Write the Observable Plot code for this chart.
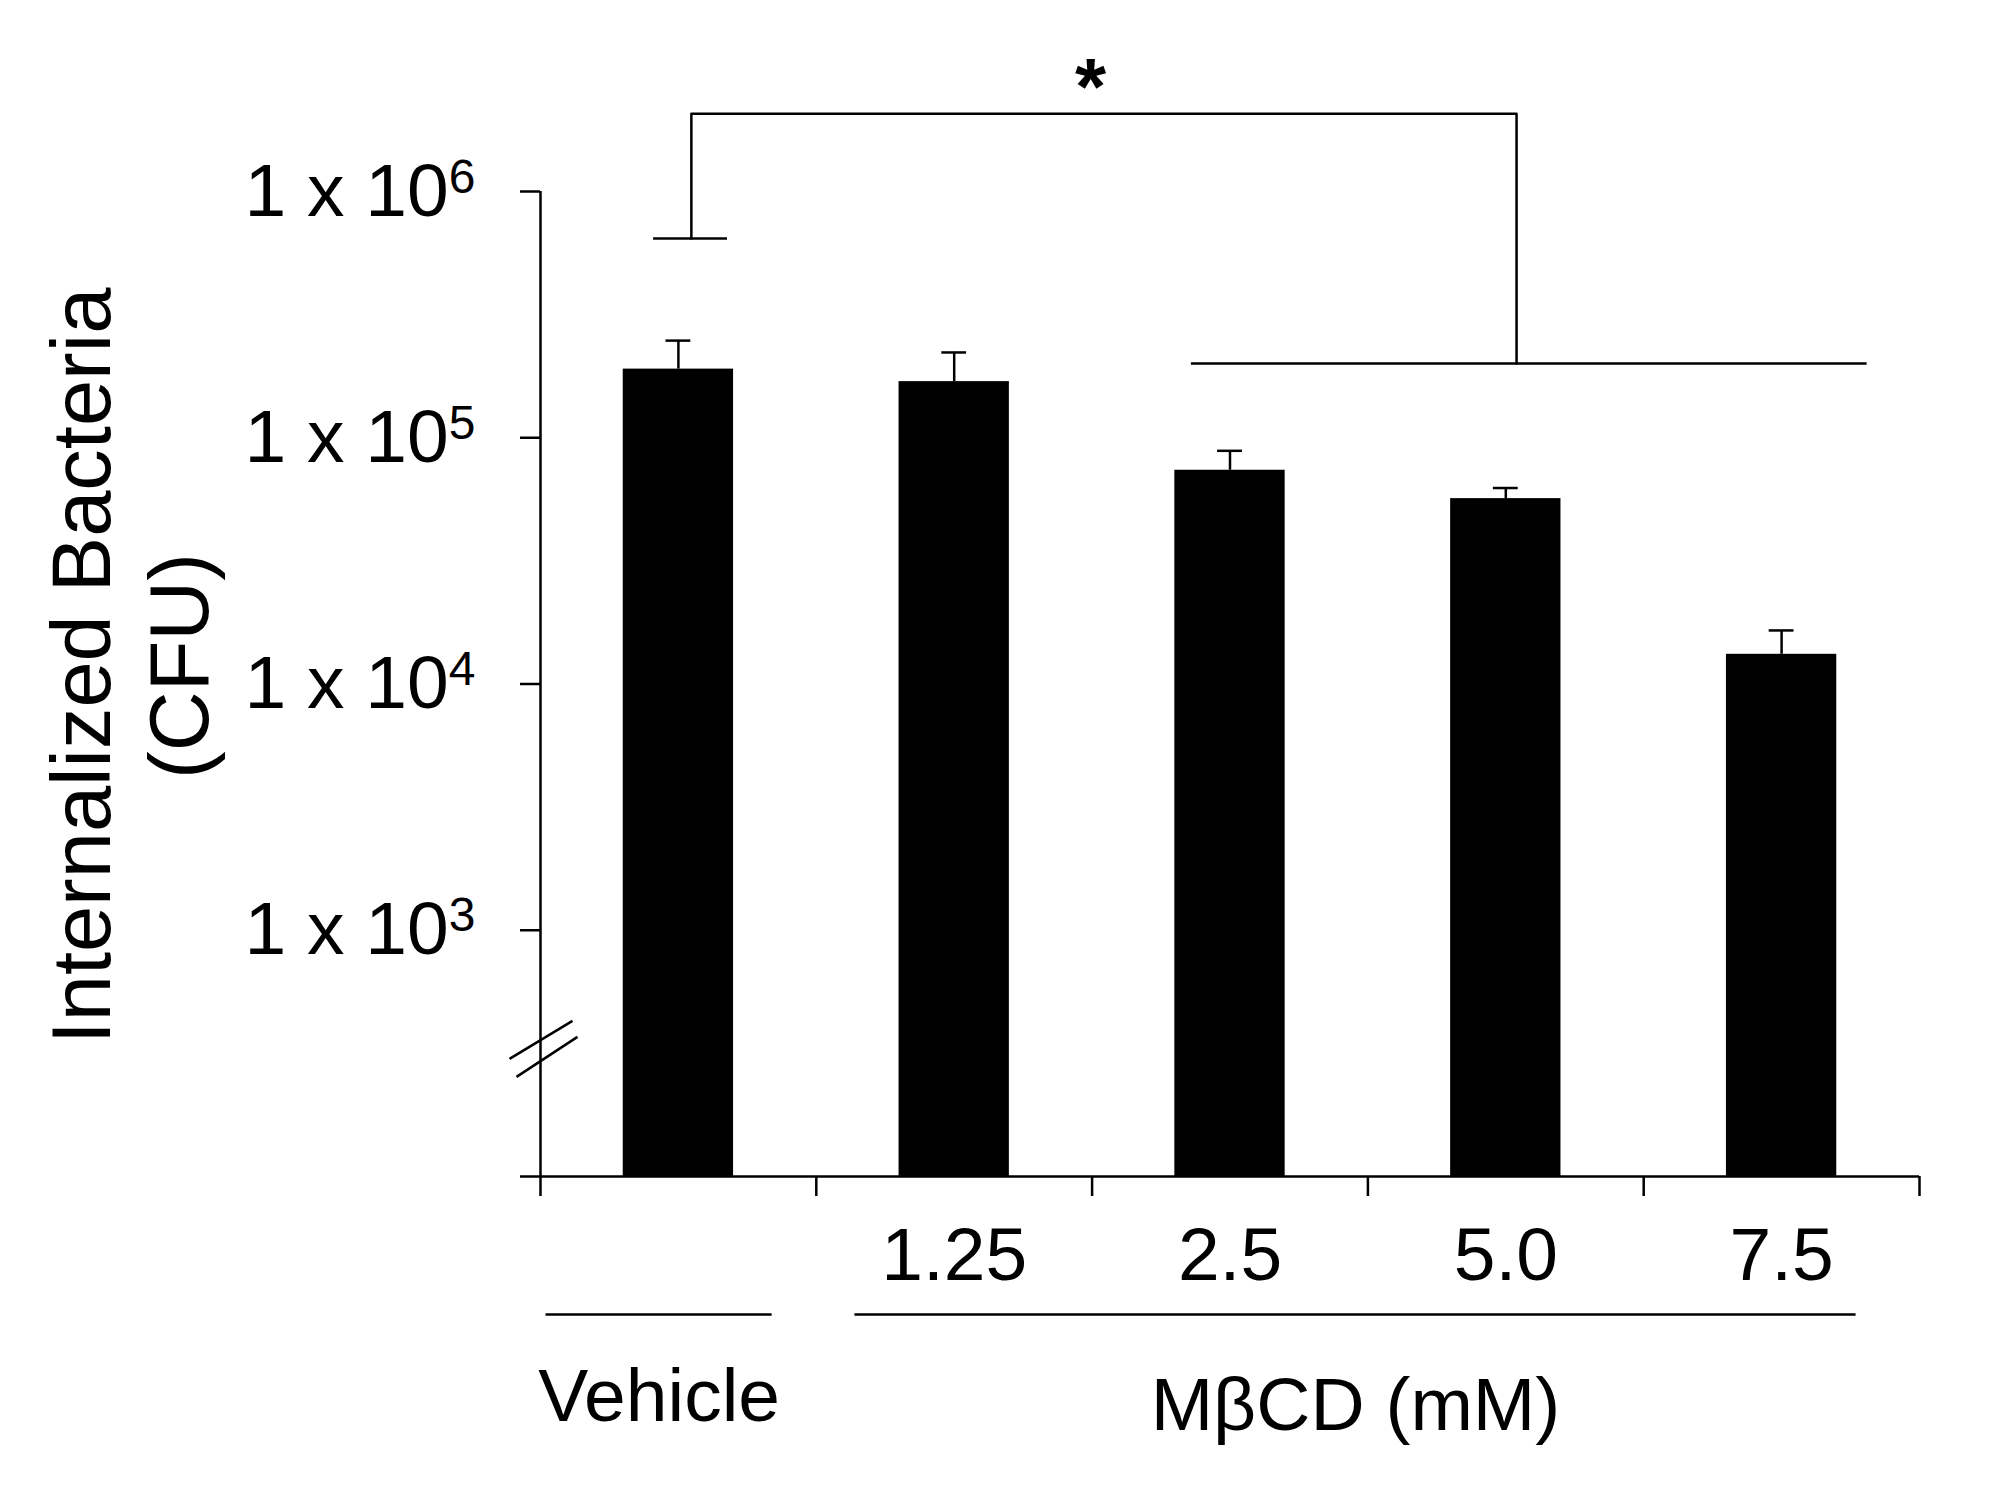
<!DOCTYPE html>
<html><head><meta charset="utf-8">
<script src="https://cdn.jsdelivr.net/npm/d3@7"></script>
<script src="https://cdn.jsdelivr.net/npm/@observablehq/plot@0.6"></script>
<style>body{margin:0;background:#fff;}</style>
</head><body><div id="chart"></div>
<script>
// ---- data ----
const categories = ["Vehicle", "1.25", "2.5", "5.0", "7.5"];
const doseLabels = ["", "1.25", "2.5", "5.0", "7.5"];
const cfuMean = [1.90e5, 1.69e5, 7.38e4, 5.66e4, 1.32e4];
const cfuUpper = [2.48e5, 2.22e5, 8.85e4, 6.25e4, 1.65e4];
const yTickValues = [1e2, 1e3, 1e4, 1e5, 1e6];
const yTickLabels = ["", "1 x 10^3", "1 x 10^4", "1 x 10^5", "1 x 10^6"];
const groupLabels = ["Vehicle", "M\u03B2CD (mM)"];
const groupFrom = [0.02, 1.14];
const groupTo = [0.84, 4.77];
const groupLabelDrop = [244, 253];
const yBreak = 333;
// significance bracket, in data units (x = category index, y = CFU)
const bracketX = [0.547, 3.539];
const bracketTopY = 2.07e6;
const bracketFootY = [6.45e5, 2.0e5];
const bracketLeftCap = [0.41, 0.678];
const bracketRightSpan = [2.36, 4.81];
const starX = 1.994;
const starLabel = "*";
const yTitle = "Internalized Bacteria\n(CFU)";

// ---- build ----
const rows = categories.map((c, i) => ({c, x: i + 0.5, mean: cfuMean[i], upper: cfuUpper[i]}));
const bracketPath = [
  [bracketX[0], bracketFootY[0]], [bracketX[0], bracketTopY],
  [bracketX[1], bracketTopY], [bracketX[1], bracketFootY[1]]
];
const breakSymbol = {draw(ctx) {
  ctx.moveTo(-31, 11); ctx.lineTo(32, -27);
  ctx.moveTo(-24, 29); ctx.lineTo(37, -11);
}};
const SW = 2.5;
const FONT = "'Liberation Sans', Arial, Helvetica, sans-serif";

const groupMarks = groupLabels.map((label, i) =>
  Plot.text([label], {x: (groupFrom[i] + groupTo[i]) / 2, y: 1e2, dy: groupLabelDrop[i],
    lineAnchor: "bottom", fontSize: 75}));

const plot = Plot.plot({
  width: 2008, height: 1495,
  marginTop: 191, marginBottom: 319, marginLeft: 540, marginRight: 89,
  style: {fontFamily: FONT, background: "#fff", color: "#000"},
  x: {type: "linear", domain: [0, categories.length]},
  y: {type: "log", domain: [1e2, 1e6]},
  marks: [
    Plot.rectY(rows, {x1: d => d.x - 0.2, x2: d => d.x + 0.2, y1: 1e2, y2: "mean", fill: "#000",
      style: "filter: drop-shadow(1px 0px 2px rgba(0,0,0,0.35))"}),
    Plot.ruleX(rows, {x: "x", y1: "mean", y2: "upper", strokeWidth: SW}),
    Plot.ruleY(rows, {y: "upper", x1: d => d.x - 0.045, x2: d => d.x + 0.045, strokeWidth: SW}),
    Plot.ruleX([0], {y1: 1e2, y2: 1e6, strokeWidth: SW}),
    Plot.ruleY([1e2], {strokeWidth: SW}),
    Plot.axisY({ticks: yTickValues, tickSize: 20, tickPadding: 45, strokeWidth: SW, fontSize: 75,
      tickFormat: d => yTickLabels[yTickValues.indexOf(d)], label: null}),
    Plot.axisX({ticks: d3.range(categories.length + 1), tickSize: 20, strokeWidth: SW,
      tickFormat: () => "", label: null}),
    Plot.axisX({ticks: rows.map(d => d.x), tickSize: 0, tickPadding: 50, fontSize: 75,
      tickFormat: d => doseLabels[Math.floor(d)], label: null}),
    Plot.ruleY(groupLabels.map((_, i) => i), {y: 1e2, x1: i => groupFrom[i], x2: i => groupTo[i], dy: 138, strokeWidth: SW}),
    ...groupMarks,
    Plot.text([yTitle], {frameAnchor: "left", rotate: -90, dx: -413, dy: -18, fontSize: 83,
      lineHeight: 1.18, textAnchor: "middle", lineAnchor: "middle"}),
    Plot.line(bracketPath, {x: d => d[0], y: d => d[1], strokeWidth: SW, stroke: "#000"}),
    Plot.ruleY([bracketFootY[0]], {x1: bracketLeftCap[0], x2: bracketLeftCap[1], strokeWidth: SW}),
    Plot.ruleY([bracketFootY[1]], {x1: bracketRightSpan[0], x2: bracketRightSpan[1], strokeWidth: SW}),
    Plot.text([starLabel], {x: starX, y: bracketTopY, lineAnchor: "bottom", fontSize: 80, fontWeight: "bold"}),
    Plot.dot([yBreak], {x: 0, y: d => d, symbol: breakSymbol, r: 10, stroke: "#000", fill: "none", strokeWidth: SW})
  ]
});
document.getElementById("chart").appendChild(plot);

// superscript exponents on y tick labels
d3.select(plot).selectAll('g[aria-label="y-axis tick label"] text').each(function() {
  const t = this.textContent;
  if (!t.includes("^")) return;
  const [base, exp] = t.split("^");
  const sel = d3.select(this);
  sel.text(null);
  sel.append("tspan").text(base);
  sel.append("tspan").attr("font-size", 48).attr("dy", -23).text(exp);
});
</script>
</body></html>
